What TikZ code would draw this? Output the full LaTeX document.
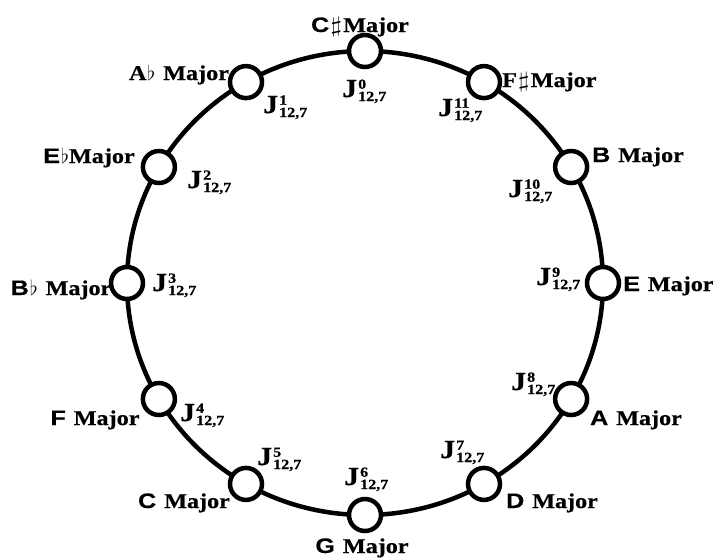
\documentclass[tikz,border=0pt]{standalone}
\usepackage{fontspec}
\usepackage{graphicx}
\newfontfamily\serb{Liberation Serif}[FakeStretch=1.15, BoldFeatures={FakeBold=0.6}]
\newfontfamily\sanb{Liberation Sans}[FakeStretch=1.2, BoldFeatures={FakeBold=0.4}]
\tikzset{
  ring/.style={line width=4.5pt},
  keynode/.style={circle, draw, line width=4.5pt, fill=white, minimum size=32pt, inner sep=0pt},
  lab/.style={inner sep=0pt, anchor=base, font=\fontsize{21}{21}\selectfont\bfseries},
  jlab/.style={inner sep=0pt, anchor=base west}
}
\newcommand\Jl[1]{{\serb\bfseries\fontsize{26}{26}\selectfont J}\kern1pt{\serb\bfseries\fontsize{14}{10}\selectfont\raisebox{-4pt}{\begin{tabular}[b]{@{}l@{}}#1\\12,7\end{tabular}}}}
\newcommand\Ms[2]{{\sanb #1}#2{\serb Major}}
\newcommand\Mr[2]{{\serb #1}#2{\serb Major}}
\newcommand\shp{\kern1pt\scalebox{1.5}[1.05]{$\sharp$}\kern1pt}
\newcommand\flt{\kern1pt$\flat$}
\begin{document}
\begin{tikzpicture}[x=1pt,y=-1pt]
\useasboundingbox (0,0) rectangle (713,558);
\draw[ring] (365,283) ellipse [x radius=238pt, y radius=232pt];
\foreach \k in {0,...,11}{
  \node[keynode] (n\k) at ({365+238*cos(90+30*\k)},{283-232*sin(90+30*\k)}) {};
}
% key names
\node[lab] (k0) at (360,32) {\Ms{C}{\shp}};
\node[lab,anchor=base west] (k11) at (502,87) {\Mr{F}{\shp}};
\node[lab] (k1) at (179,80) {\Mr{A}{\flt\ }};
\node[lab] (k2) at (89,163) {\Ms{E}{\flt}};
\node[lab] (k3) at (61,295) {\Ms{B}{\flt\ }};
\node[lab] (k4) at (95,425) {\Ms{F}{\ }};
\node[lab] (k5) at (184,508) {\Ms{C}{\ }};
\node[lab] (k6) at (362,553) {\Ms{G}{\ }};
\node[lab] (k7) at (552,508) {\Ms{D}{\ }};
\node[lab] (k8) at (636,425) {\Ms{A}{\ }};
\node[lab,anchor=base west] (k9) at (623,291) {\Ms{E}{\ }};
\node[lab] (k10) at (638,162) {\Ms{B}{\ }};
% J labels
\node[jlab] (j0) at (342,97) {\Jl{0}};
\node[jlab] (j1) at (263,113) {\Jl{1}};
\node[jlab] (j2) at (187,188) {\Jl{2}};
\node[jlab] (j3) at (152,291) {\Jl{3}};
\node[jlab] (j4) at (180,421) {\Jl{4}};
\node[jlab] (j5) at (257,465) {\Jl{5}};
\node[jlab] (j6) at (344,485) {\Jl{6}};
\node[jlab] (j7) at (440,458) {\Jl{7}};
\node[jlab] (j8) at (511,390) {\Jl{8}};
\node[jlab] (j9) at (536,285) {\Jl{9}};
\node[jlab] (j10) at (508,197) {\Jl{10}};
\node[jlab] (j11) at (438,116) {\Jl{11}};
\end{tikzpicture}
\end{document}
